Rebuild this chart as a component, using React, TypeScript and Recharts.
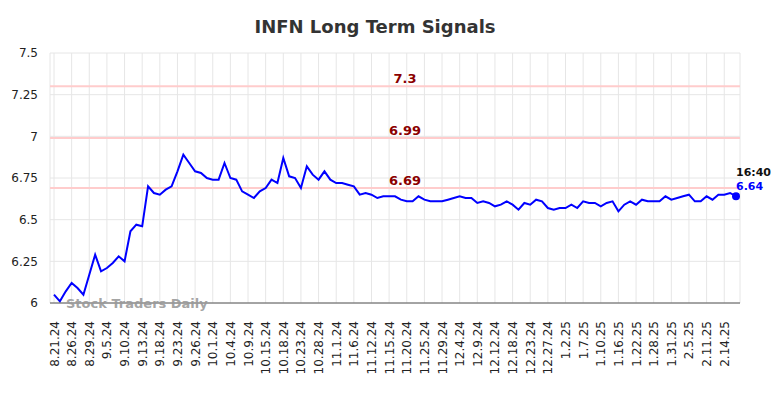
import { LineChart, Line, XAxis, YAxis, CartesianGrid, ReferenceLine } from 'recharts';

const dates = [
    '8.21.24', '8.22.24', '8.23.24', '8.26.24', '8.27.24', '8.28.24', '8.29.24', '8.30.24', '9.4.24',
    '9.5.24', '9.6.24', '9.9.24', '9.10.24', '9.11.24', '9.12.24', '9.13.24', '9.16.24', '9.17.24',
    '9.18.24', '9.19.24', '9.20.24', '9.23.24', '9.24.24', '9.25.24', '9.26.24', '9.27.24', '9.30.24',
    '10.1.24', '10.2.24', '10.3.24', '10.4.24', '10.7.24', '10.8.24', '10.9.24', '10.10.24', '10.11.24',
    '10.15.24', '10.16.24', '10.17.24', '10.18.24', '10.21.24', '10.22.24', '10.23.24', '10.24.24', '10.25.24',
    '10.28.24', '10.29.24', '10.30.24', '11.1.24', '11.4.24', '11.5.24', '11.6.24', '11.7.24', '11.8.24',
    '11.12.24', '11.13.24', '11.14.24', '11.15.24', '11.18.24', '11.19.24', '11.20.24', '11.21.24', '11.22.24',
    '11.25.24', '11.26.24', '11.27.24', '11.29.24', '12.2.24', '12.3.24', '12.4.24', '12.5.24', '12.6.24',
    '12.9.24', '12.10.24', '12.11.24', '12.12.24', '12.13.24', '12.16.24', '12.18.24', '12.19.24', '12.20.24',
    '12.23.24', '12.24.24', '12.26.24', '12.27.24', '12.30.24', '12.31.24', '1.2.25', '1.3.25', '1.6.25',
    '1.7.25', '1.8.25', '1.9.25', '1.10.25', '1.13.25', '1.14.25', '1.16.25', '1.17.25', '1.21.25',
    '1.22.25', '1.23.25', '1.24.25', '1.28.25', '1.29.25', '1.30.25', '1.31.25', '2.3.25', '2.4.25',
    '2.5.25', '2.6.25', '2.7.25', '2.11.25', '2.12.25', '2.13.25', '2.14.25', '2.18.25', '2.19.25',
];

const prices = [
    6.05, 6.01, 6.07, 6.12, 6.09, 6.05, 6.17, 6.29, 6.19,
    6.21, 6.24, 6.28, 6.25, 6.43, 6.47, 6.46, 6.70, 6.66,
    6.65, 6.68, 6.70, 6.79, 6.89, 6.84, 6.79, 6.78, 6.75,
    6.74, 6.74, 6.84, 6.75, 6.74, 6.67, 6.65, 6.63, 6.67,
    6.69, 6.74, 6.72, 6.87, 6.76, 6.75, 6.69, 6.82, 6.77,
    6.74, 6.79, 6.74, 6.72, 6.72, 6.71, 6.70, 6.65, 6.66,
    6.65, 6.63, 6.64, 6.64, 6.64, 6.62, 6.61, 6.61, 6.64,
    6.62, 6.61, 6.61, 6.61, 6.62, 6.63, 6.64, 6.63, 6.63,
    6.60, 6.61, 6.60, 6.58, 6.59, 6.61, 6.59, 6.56, 6.60,
    6.59, 6.62, 6.61, 6.57, 6.56, 6.57, 6.57, 6.59, 6.57,
    6.61, 6.60, 6.60, 6.58, 6.60, 6.61, 6.55, 6.59, 6.61,
    6.59, 6.62, 6.61, 6.61, 6.61, 6.64, 6.62, 6.63, 6.64,
    6.65, 6.61, 6.61, 6.64, 6.62, 6.65, 6.65, 6.66, 6.64,
];

const yTicks = [6, 6.25, 6.5, 6.75, 7, 7.25, 7.5];
const signalLevels = [7.3, 6.99, 6.69];
const lastTime = '16:40';

const data = dates.map((date, i) => ({ date, price: prices[i] }));

const FONT = '"DejaVu Sans", sans-serif';

const XTick = ({ x, y, payload }: any) => (
    <text
        transform={`translate(${x + 4.5},${y + 10}) rotate(-90)`}
        textAnchor="end"
        fontSize={12}
        fontFamily={FONT}
        fill="#222"
    >
        {payload.value}
    </text>
);

const SignalLabel = ({ viewBox, value }: any) => (
    <text
        x={viewBox.x + viewBox.width / 2 + 10}
        y={viewBox.y - 3}
        textAnchor="middle"
        fontSize={13}
        fontWeight="bold"
        fontFamily={FONT}
        fill="#8b0000"
    >
        {value}
    </text>
);

const LastDot = ({ cx, cy, index, value }: any) => {
    if (index !== data.length - 1) return <g key={`d-${index}`} />;
    return (
        <g key={`d-${index}`}>
            <circle cx={cx} cy={cy} r={4} fill="#0000ff" />
            <text x={cx} y={cy - 20} fontSize={11} fontWeight="bold" fontFamily={FONT} fill="#111">
                {lastTime}
            </text>
            <text x={cx} y={cy - 6} fontSize={11} fontWeight="bold" fontFamily={FONT} fill="#0000ff">
                {value.toFixed(2)}
            </text>
        </g>
    );
};

export default function App() {
    return (
        <div style={{ position: 'absolute', left: 0, top: 0, width: 784, height: 398, background: '#fff' }}>
            <svg width={784} height={40} style={{ position: 'absolute', left: 0, top: 0 }}>
                <text x={375} y={33} textAnchor="middle" fontSize={18} fontWeight="bold" fontFamily={FONT} fill="#333">
                    INFN Long Term Signals
                </text>
            </svg>
            <LineChart
                width={784}
                height={398}
                data={data}
                margin={{ top: 53, right: 44, left: 0, bottom: 0 }}
            >
                <CartesianGrid stroke="#e6e6e6" strokeWidth={1} />
                <XAxis
                    dataKey="date"
                    interval={2}
                    height={95}
                    tickLine={false}
                    axisLine={{ stroke: '#555', strokeWidth: 1 }}
                    tick={<XTick />}
                    padding={{ left: 4, right: 4 }}
                />
                <YAxis
                    domain={[6, 7.5]}
                    ticks={yTicks}
                    width={50}
                    axisLine={false}
                    tickLine={false}
                    tickSize={0}
                    tickMargin={12}
                    tick={{ fontSize: 12, fontFamily: FONT, fill: '#222' }}
                />
                {signalLevels.map((lvl) => (
                    <ReferenceLine
                        key={lvl}
                        y={lvl}
                        stroke="#ffcccc"
                        strokeWidth={2}
                        label={<SignalLabel value={String(lvl)} />}
                    />
                ))}
                <Line
                    type="linear"
                    dataKey="price"
                    stroke="#0000ff"
                    strokeWidth={2}
                    dot={LastDot}
                    activeDot={false}
                    isAnimationActive={false}
                />
            </LineChart>
            <svg width={784} height={398} style={{ position: 'absolute', left: 0, top: 0, pointerEvents: 'none' }}>
                <text x={66} y={308} fontSize={13} fontWeight="bold" fontFamily={FONT} fill="#999" fillOpacity={0.9}>
                    Stock Traders Daily
                </text>
            </svg>
        </div>
    );
}
